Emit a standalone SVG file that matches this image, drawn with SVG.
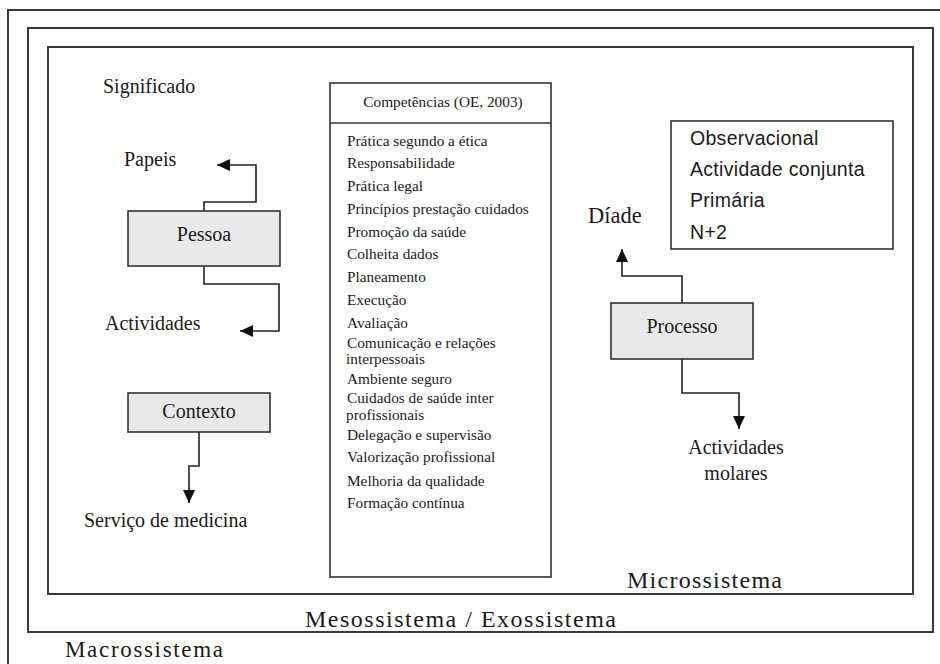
<svg xmlns="http://www.w3.org/2000/svg" width="940" height="664" viewBox="0 0 940 664">
<style>
.frame{fill:none;stroke:#3a3a3a;stroke-width:2}
.box{fill:#fff;stroke:#333;stroke-width:1.6}
.gbox{fill:#e9e9e9;stroke:#333;stroke-width:1.6}
.conn{fill:none;stroke:#222;stroke-width:1.6}
.s{font-family:"Liberation Serif","Times New Roman",serif;fill:#1a1a1a}
.lbl{font-size:20px}
.lst{font-size:15.3px}
.sys{font-size:24px}
.sans{font-family:"Liberation Sans",Arial,sans-serif;font-size:19.5px;fill:#1a1a1a;letter-spacing:0.3px}
</style>
<defs>
<marker id="ah" viewBox="0 0 13 12" refX="13" refY="6" markerWidth="13" markerHeight="12" markerUnits="userSpaceOnUse" orient="auto">
<path d="M0,0 L13,6 L0,12 z" fill="#111"/>
</marker>
</defs>
<rect width="940" height="664" fill="#fff"/>

<g id="macrossistema">
<rect class="frame" x="8" y="10" width="960" height="680"/>
<text class="s" font-size="23" x="65" y="657" textLength="158" lengthAdjust="spacing">Macrossistema</text>
</g>
<g id="mesossistema">
<rect class="frame" x="28" y="28" width="905" height="604"/>
<text class="s sys" x="305" y="627" textLength="311" lengthAdjust="spacing">Mesossistema / Exossistema</text>
</g>
<g id="microssistema">
<rect class="frame" x="48" y="47" width="865" height="547"/>
<text class="s sys" x="627" y="588" textLength="155" lengthAdjust="spacing">Microssistema</text>
</g>

<g id="connectors">
<path class="conn" d="M204,211 V202 H256 V165 H217" marker-end="url(#ah)"/>
<path class="conn" d="M204,266 V284 H279 V331 H240" marker-end="url(#ah)"/>
<path class="conn" d="M199,432 V466 H189 V503" marker-end="url(#ah)"/>
<path class="conn" d="M682,303 V276 H622 V249" marker-end="url(#ah)"/>
<path class="conn" d="M682,359 V393 H739 V429" marker-end="url(#ah)"/>
</g>

<g id="significado"><text class="s lbl" x="103" y="93">Significado</text></g>
<g id="papeis"><text class="s lbl" x="124" y="166">Papeis</text></g>
<g id="pessoa">
<rect class="gbox" x="128" y="211" width="152" height="55"/>
<text class="s lbl" x="204" y="241" text-anchor="middle">Pessoa</text>
</g>
<g id="actividades"><text class="s lbl" x="105" y="330">Actividades</text></g>
<g id="contexto">
<rect class="gbox" x="128" y="393" width="142" height="39"/>
<text class="s lbl" x="199" y="418" text-anchor="middle">Contexto</text>
</g>
<g id="servico"><text class="s lbl" x="84" y="527">Serviço de medicina</text></g>

<g id="competencias">
<rect class="box" x="330" y="83" width="221" height="494"/>
<line x1="330" y1="123" x2="551" y2="123" stroke="#333" stroke-width="1.6"/>
<text class="s lst" x="443" y="107" text-anchor="middle">Competências (OE, 2003)</text>
<text class="s lst" x="347" y="146">Prática segundo a ética</text>
<text class="s lst" x="347" y="168">Responsabilidade</text>
<text class="s lst" x="347" y="191">Prática legal</text>
<text class="s lst" x="347" y="214">Princípios prestação cuidados</text>
<text class="s lst" x="347" y="237">Promoção da saúde</text>
<text class="s lst" x="347" y="259">Colheita dados</text>
<text class="s lst" x="347" y="282">Planeamento</text>
<text class="s lst" x="347" y="305">Execução</text>
<text class="s lst" x="347" y="328">Avaliação</text>
<text class="s lst" x="347" y="348">Comunicação e relações</text>
<text class="s lst" x="346" y="364">interpessoais</text>
<text class="s lst" x="347" y="384">Ambiente seguro</text>
<text class="s lst" x="347" y="403">Cuidados de saúde inter</text>
<text class="s lst" x="346" y="420">profissionais</text>
<text class="s lst" x="347" y="440">Delegação e supervisão</text>
<text class="s lst" x="347" y="462">Valorização profissional</text>
<text class="s lst" x="347" y="486">Melhoria da qualidade</text>
<text class="s lst" x="347" y="508">Formação contínua</text>
</g>

<g id="caracteristicas">
<rect class="box" x="671" y="121" width="222" height="128"/>
<text class="sans" x="690" y="145">Observacional</text>
<text class="sans" x="690" y="176">Actividade conjunta</text>
<text class="sans" x="690" y="207">Primária</text>
<text class="sans" x="690" y="239">N+2</text>
</g>
<g id="diade"><text class="s" font-size="22.5" x="588" y="223">Díade</text></g>
<g id="processo">
<rect class="gbox" x="611" y="303" width="142" height="56"/>
<text class="s lbl" x="682" y="333" text-anchor="middle">Processo</text>
</g>
<g id="actividades-molares">
<text class="s lbl" x="736" y="454" text-anchor="middle">Actividades</text>
<text class="s lbl" x="736" y="480" text-anchor="middle">molares</text>
</g>
</svg>
